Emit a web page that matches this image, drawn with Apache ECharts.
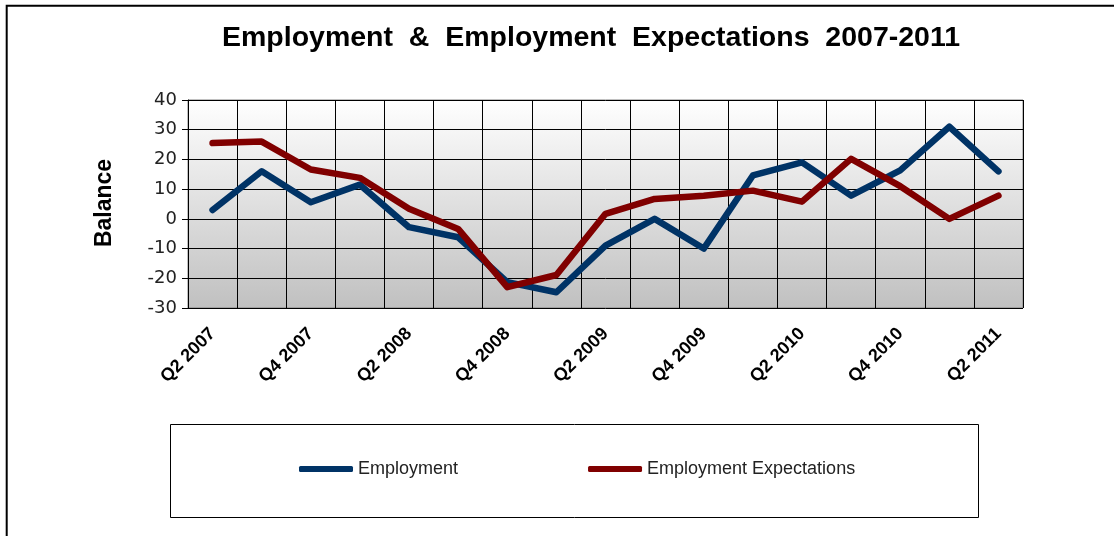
<!DOCTYPE html>
<html>
<head>
<meta charset="utf-8">
<style>
  html, body { margin: 0; padding: 0; background: #fff; }
  #chart { width: 1114px; height: 536px; }
</style>
<script src="https://cdn.jsdelivr.net/npm/echarts@6/dist/echarts.min.js"></script>
</head>
<body>
<div id="chart"></div>
<script>
// Quarterly balances, Q2 2007 to Q2 2011
const quarters = [
  'Q2 2007', 'Q3 2007', 'Q4 2007', 'Q1 2008', 'Q2 2008', 'Q3 2008',
  'Q4 2008', 'Q1 2009', 'Q2 2009', 'Q3 2009', 'Q4 2009', 'Q1 2010',
  'Q2 2010', 'Q3 2010', 'Q4 2010', 'Q1 2011', 'Q2 2011'
];
const employment = [3, 16, 5.6, 11.5, -2.8, -6.2, -21.3, -24.7, -9, 0, -10, 14.6, 19, 7.8, 16.3, 31, 16];
const expectations = [25.5, 26, 16.6, 13.8, 3.4, -3.4, -23, -18.9, 1.7, 6.7, 7.8, 9.5, 5.8, 20.2, 11, 0, 7.8];

const FONT = 'Arial, "Liberation Sans", sans-serif';
const WIDE_FONT = '"DejaVu Sans", Verdana, sans-serif';

const chart = echarts.init(document.getElementById('chart'), null, { renderer: 'canvas' });

chart.setOption({
  animation: false,
  backgroundColor: '#ffffff',
  title: {
    text: 'Employment  &  Employment  Expectations  2007-2011',
    left: 591,
    top: 24,
    padding: 0,
    textAlign: 'center',
    textStyle: { fontFamily: FONT, fontSize: 28.5, fontWeight: 'bold', color: '#000' }
  },
  legend: {
    left: 299,
    top: 460,
    padding: 0,
    icon: 'roundRect',
    itemWidth: 54,
    itemHeight: 6,
    itemGap: 130,
    textStyle: { fontFamily: FONT, fontSize: 18, color: '#222' },
    data: ['Employment', 'Employment Expectations']
  },
  grid: {
    left: 188,
    top: 100,
    right: 91,
    height: 208,
    show: true,
    borderColor: '#808080',
    borderWidth: 1,
    backgroundColor: new echarts.graphic.LinearGradient(0, 0, 0, 1, [
      { offset: 0, color: '#ffffff' },
      { offset: 1, color: '#c0c0c0' }
    ])
  },
  xAxis: {
    type: 'category',
    data: quarters,
    boundaryGap: true,
    axisLine: { lineStyle: { color: '#000', width: 1 } },
    axisTick: { show: true, interval: 0, length: 7, lineStyle: { color: '#000' } },
    splitLine: { show: true, interval: 0, lineStyle: { color: '#000', width: 1 } },
    axisLabel: {
      interval: 1,
      rotate: 45,
      margin: 23,
      fontFamily: FONT,
      fontSize: 18,
      fontWeight: 'bold',
      color: '#000'
    }
  },
  yAxis: {
    type: 'value',
    min: -30,
    max: 40,
    interval: 10,
    axisLine: { show: true, lineStyle: { color: '#000', width: 1 } },
    axisTick: { show: true, length: 6, lineStyle: { color: '#000' } },
    splitLine: { show: true, lineStyle: { color: '#000', width: 1 } },
    axisLabel: { margin: 11, fontFamily: WIDE_FONT, fontSize: 18, color: '#222' }
  },
  graphic: [
    {
      type: 'rect',
      shape: { x: 6.7, y: 5.7, width: 1200, height: 600 },
      style: { fill: 'none', stroke: '#000', lineWidth: 2 },
      silent: true, z: -1
    },
    {
      type: 'rect',
      shape: { x: 170.5, y: 424.5, width: 808, height: 93 },
      style: { fill: 'none', stroke: '#000', lineWidth: 1 },
      silent: true
    },
    {
      type: 'text',
      x: 105,
      y: 203,
      rotation: Math.PI / 2,
      style: {
        text: 'Balance',
        fontFamily: FONT,
        fontSize: 23,
        fontWeight: 'bold',
        fill: '#000',
        align: 'center',
        verticalAlign: 'middle'
      }
    }
  ],
  series: [
    {
      name: 'Employment',
      type: 'line',
      data: employment,
      symbol: 'none',
      color: '#003366',
      lineStyle: { color: '#003366', width: 6.5, cap: 'round', join: 'round' },
      z: 3
    },
    {
      name: 'Employment Expectations',
      type: 'line',
      data: expectations,
      symbol: 'none',
      color: '#800000',
      lineStyle: { color: '#800000', width: 6.5, cap: 'round', join: 'round' },
      z: 4
    }
  ]
});
</script>
</body>
</html>
